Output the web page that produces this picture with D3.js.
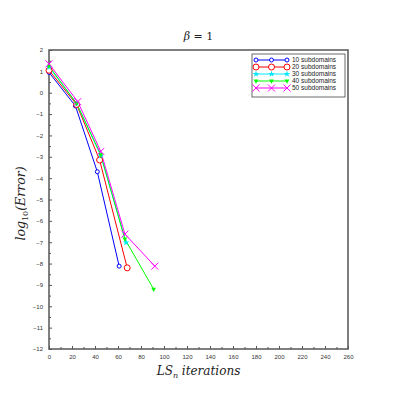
<!DOCTYPE html>
<html>
<head>
<meta charset="utf-8">
<script src="https://cdn.jsdelivr.net/npm/d3@7"></script>
<style>
  body { margin: 0; background: #fff; }
  svg { display: block; }
</style>
</head>
<body>
<svg id="chart" width="399" height="399"></svg>
<script>
// data
const names = ['10 subdomains', '20 subdomains', '30 subdomains', '40 subdomains', '50 subdomains']
const colors = ['#0000ff', '#ff0000', '#00e8ff', '#00ff00', '#ff00ff']
const markers = ['circle', 'bigcircle', 'star', 'tri', 'cross']
const xs10 = [0, 23, 42, 61]
const ys10 = [0.95, -0.62, -3.7, -8.12]
const xs20 = [0, 24, 44, 68]
const ys20 = [1.05, -0.55, -3.15, -8.2]
const xs30 = [0, 24, 45, 67]
const ys30 = [1.2, -0.5, -2.95, -7.02]
const xs40 = [0, 24, 45, 66, 91]
const ys40 = [1.25, -0.5, -2.9, -6.85, -9.2]
const xs50 = [0, 25, 45, 66, 92]
const ys50 = [1.35, -0.42, -2.75, -6.62, -8.12]
const xTicks = d3.range(0, 261, 20)
const yTicks = d3.range(-12, 3, 1)

const series = [[xs10, ys10], [xs20, ys20], [xs30, ys30], [xs40, ys40], [xs50, ys50]].map((s, i) => ({
  name: names[i],
  color: colors[i],
  marker: markers[i],
  pts: s[0].map((x, j) => ({ x, y: s[1][j] }))
}))

const svg = d3.select('#chart')
const margin = { left: 49, top: 50, right: 51, bottom: 50 }
const W = 399 - margin.left - margin.right
const H = 399 - margin.top - margin.bottom

const x = d3.scaleLinear().domain([0, 260]).range([0, W])
const y = d3.scaleLinear().domain([-12, 2]).range([H, 0])

const g = svg.append('g').attr('transform', `translate(${margin.left},${margin.top})`)

// 刻度（朝内）
const axisCol = '#555'
const xAxis = d3.axisBottom(x).tickValues(xTicks).tickSize(-3).tickPadding(6).tickFormat(d3.format('d'))
const yAxis = d3.axisLeft(y).tickValues(yTicks).tickSize(-3).tickPadding(6).tickFormat(d => d < 0 ? '\u2212' + (-d) : d)
const xMinor = d3.axisBottom(x).tickValues(d3.range(10, 260, 20)).tickSize(-2).tickFormat('')
const yMinor = d3.axisLeft(y).tickValues(d3.range(-11.5, 2, 1)).tickSize(-2).tickFormat('')

function styleAxis(sel) {
  sel.select('.domain').remove()
  sel.selectAll('line').attr('stroke', axisCol)
  sel.selectAll('text').attr('fill', '#333').attr('font-size', 6).attr('font-family', 'Liberation Sans, Arial, sans-serif')
}
g.append('g').attr('transform', `translate(0,${H})`).call(xAxis).call(styleAxis)
g.append('g').attr('transform', `translate(0,${H})`).call(xMinor).call(styleAxis)
g.append('g').call(yAxis).call(styleAxis)
g.append('g').call(yMinor).call(styleAxis)

// 边框
g.append('rect').attr('width', W).attr('height', H)
  .attr('fill', 'none').attr('stroke', axisCol).attr('stroke-width', 1.5)

// 线
const line = d3.line().x(d => x(d.x)).y(d => y(d.y))
const sG = g.append('g')
series.forEach(s => {
  sG.append('path').datum(s.pts).attr('d', line)
    .attr('fill', 'none').attr('stroke', s.color).attr('stroke-width', 1)
})

function drawMarker(sel, type, color) {
  if (type === 'circle') {
    sel.append('circle').attr('r', 2).attr('fill', 'white').attr('stroke', color).attr('stroke-width', 1)
  } else if (type === 'bigcircle') {
    sel.append('circle').attr('r', 3).attr('fill', 'white').attr('stroke', color).attr('stroke-width', 1)
  } else if (type === 'star') {
    sel.append('path').attr('d', d3.symbol(d3.symbolStar, 14)()).attr('fill', color)
  } else if (type === 'tri') {
    sel.append('path').attr('d', d3.symbol(d3.symbolTriangle, 10)()).attr('transform', 'rotate(180)').attr('fill', color)
  } else {
    sel.append('path').attr('d', 'M-3.5,-3.5L3.5,3.5M-3.5,3.5L3.5,-3.5').attr('stroke', color).attr('stroke-width', 1)
  }
}

series.forEach(s => {
  s.pts.forEach(p => {
    const m = sG.append('g').attr('transform', `translate(${x(p.x)},${y(p.y)})`)
    drawMarker(m, s.marker, s.color)
  })
})

// 图例
const lg = g.append('g').attr('transform', `translate(${W - 96},4)`)
lg.append('rect').attr('width', 93).attr('height', 43)
  .attr('fill', 'white').attr('stroke', '#444').attr('stroke-width', 0.8)
series.forEach((s, i) => {
  const ry = 6 + i * 7
  const row = lg.append('g').attr('transform', `translate(0,${ry})`)
  row.append('line').attr('x1', 4).attr('x2', 35).attr('y1', 0).attr('y2', 0)
    .attr('stroke', s.color).attr('stroke-width', 1)
  ;[4, 19.5, 35].forEach(mx => {
    const m = row.append('g').attr('transform', `translate(${mx},0)`)
    drawMarker(m, s.marker, s.color)
  })
  row.append('text').attr('x', 40).attr('y', 2.3).attr('font-size', 6.5)
    .attr('font-family', 'Liberation Sans, Arial, sans-serif').attr('fill', '#222').text(s.name)
})

// 标题和轴标签
const serif = 'DejaVu Serif, Liberation Serif, serif'
const title = svg.append('text').attr('x', margin.left + W / 2).attr('y', 40)
  .attr('text-anchor', 'middle').attr('font-family', serif).attr('font-size', 11).attr('fill', '#222')
title.append('tspan').attr('font-style', 'italic').text('β')
title.append('tspan').text(' = 1')

const xl = svg.append('text').attr('x', margin.left + W / 2).attr('y', 375)
  .attr('text-anchor', 'middle').attr('font-family', serif).attr('font-style', 'italic')
  .attr('font-size', 12).attr('fill', '#222')
xl.append('tspan').text('LS')
xl.append('tspan').attr('font-size', 8).attr('dy', 3).text('n')
xl.append('tspan').attr('dy', -3).text(' iterations')

const yl = svg.append('text').attr('transform', `translate(25,${margin.top + H / 2 + 4}) rotate(-90)`)
  .attr('text-anchor', 'middle').attr('font-family', serif).attr('font-style', 'italic')
  .attr('font-size', 12.5).attr('fill', '#222')
yl.append('tspan').text('log')
yl.append('tspan').attr('font-size', 8).attr('dy', 3).attr('font-style', 'normal').text('10')
yl.append('tspan').attr('dy', -3).text('(Error)')
</script>
</body>
</html>
